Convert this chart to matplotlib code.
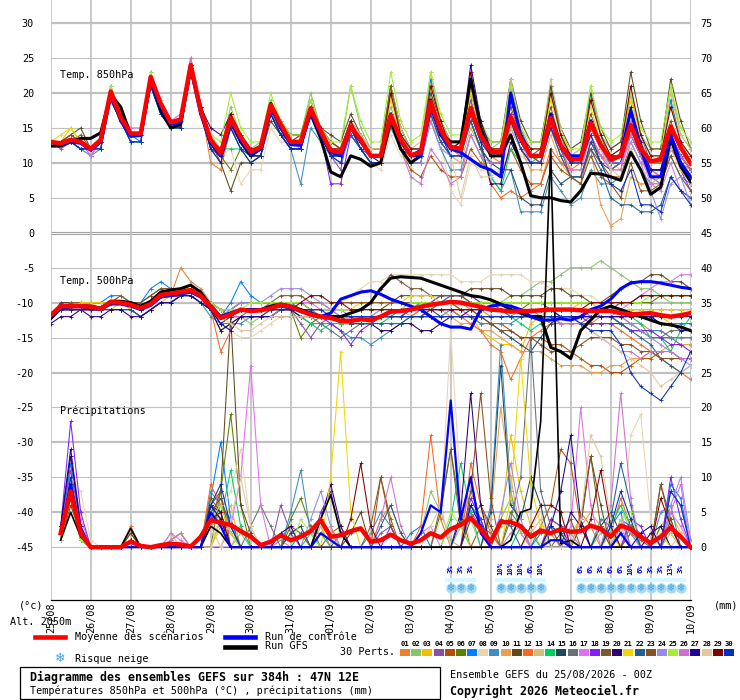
import numpy as np
import matplotlib
matplotlib.use('Agg')
import matplotlib.pyplot as plt
from matplotlib.lines import Line2D
from matplotlib.patches import Rectangle

plt.rcParams['font.family'] = ['DejaVu Sans Mono', 'DejaVu Sans']

# ---- data (6h steps, 25/08 00Z -> 10/09 00Z) ----
dates = ['25/08', '26/08', '27/08', '28/08', '29/08', '30/08', '31/08', '01/09', '02/09',
         '03/09', '04/09', '05/09', '06/09', '07/09', '08/09', '09/09', '10/09']

member_colors = ['#E8802E', '#88C46A', '#F0C000', '#8B4FA8', '#B0500A', '#5A8000', '#0080FF', '#E8D4B0',
                 '#3A8FC0', '#E8A050', '#5E4A1A', '#F86820', '#D0C080', '#00D060', '#204860', '#687078',
                 '#E070F0', '#8020F0', '#7A5A2A', '#300070', '#F0D800', '#206098', '#8A5020', '#9A88F0',
                 '#A0F030', '#D070D0', '#200098', '#E0C8A0', '#800000', '#0030C0']

mean850 = [13.0, 12.8, 13.3, 13.0, 12.0, 13.3, 20.2, 16.5, 14.2, 14.2, 22.3, 18.5, 15.8, 16.2, 24.0, 17.5,
           13.3, 11.4, 16.4, 13.7, 11.6, 12.3, 18.3, 15.5, 13.0, 13.0, 17.8, 14.5, 11.8, 11.5, 15.2, 13.3,
           11.0, 11.0, 16.8, 13.3, 11.1, 11.5, 18.7, 14.7, 12.3, 12.0, 17.8, 13.9, 11.6, 11.5, 16.6, 13.5,
           11.0, 11.0, 16.4, 12.5, 10.5, 10.5, 15.7, 12.6, 10.5, 11.0, 15.4, 12.0, 10.2, 10.5, 15.2, 12.2, 9.9]
ctrl850 = [13.0, 12.6, 13.0, 12.8, 11.8, 13.0, 19.8, 16.0, 13.8, 13.9, 21.8, 18.0, 15.5, 15.8, 23.5, 17.0,
           12.8, 11.0, 16.0, 13.2, 11.2, 12.0, 18.0, 15.0, 12.6, 12.5, 17.2, 14.0, 11.5, 11.0, 15.0, 13.0,
           11.0, 11.0, 17.0, 13.0, 11.0, 11.0, 18.0, 14.0, 12.0, 11.5, 10.5, 9.5, 9.0, 8.0, 20.0, 14.0,
           11.0, 11.0, 17.0, 12.5, 11.0, 11.0, 16.0, 12.5, 10.5, 11.0, 17.5, 12.0, 8.0, 8.0, 14.0, 10.0, 8.0]
gfs850 = [12.4, 12.4, 13.0, 13.5, 13.5, 14.3, 19.8, 18.0, 14.0, 14.0, 22.0, 17.5, 15.0, 15.5, 23.5, 18.0,
          13.0, 11.0, 16.0, 13.0, 11.0, 12.0, 18.5, 15.0, 13.0, 13.0, 17.0, 13.5, 8.7, 8.0, 11.0, 10.5,
          9.5, 10.0, 16.0, 12.0, 10.0, 11.0, 19.0, 14.0, 13.0, 13.0, 22.0, 15.0, 11.0, 11.0, 14.0, 10.0,
          5.3, 5.0, 5.0, 4.6, 4.4, 6.0, 8.5, 8.4, 8.0, 7.5, 11.5, 9.0, 5.5, 6.5, 13.5, 9.5, 7.3]

t850_members = [
    [13,13,13,13, 12,13,20,17, 14,14,22,18, 16,16,24,18, 10,9,15,13, 11,12,17,15, 13,13,17,14, 12,11,15,13, 11,11,16,13, 11,11,18,14, 12,12,19,14, 11,10,15,12, 10,10,15,12, 9,10,14,11, 10,10,16,12, 9,9,14,11, 9],
    [13,13,13,13, 12,13,20,17, 14,14,22,19, 16,16,24,18, 14,12,18,14, 12,13,19,16, 14,14,20,15, 13,12,21,15, 12,12,18,14, 12,12,20,16, 13,13,21,15, 12,13,20,15, 12,12,21,14, 11,12,20,14, 12,13,20,14, 12,12,21,14, 12],
    [13,13,15,13, 12,13,20,17, 14,14,22,18, 16,16,24,18, 13,11,16,14, 12,12,18,16, 13,13,18,15, 12,11,15,13, 11,11,20,14, 11,12,22,16, 12,12,21,15, 12,12,20,15, 11,11,20,14, 11,11,19,14, 10,11,19,13, 10,11,19,13, 11],
    [13,12,13,13, 11,13,21,17, 14,14,23,18, 16,16,25,18, 13,11,17,14, 11,12,18,15, 13,13,18,14, 11,9,16,13, 11,11,17,13, 11,11,19,15, 12,12,19,14, 11,11,16,13, 10,10,15,11, 8,7,13,11, 9,10,14,11, 8,7,12,10, 8],
    [13,13,14,13, 12,13,20,16, 14,14,22,18, 16,16,24,17, 13,12,16,13, 12,12,18,15, 13,14,18,15, 13,12,15,13, 11,11,16,12, 9,8,11,9, 8,8,12,10, 9,8,12,9, 7,7,11,9, 8,8,12,10, 8,8,13,10, 9,9,12,10, 9],
    [13,13,13,13, 12,13,20,16, 14,14,22,18, 16,16,24,18, 13,11,9,12, 10,11,17,14, 13,13,18,15, 12,11,15,12, 10,10,16,13, 11,11,18,14, 12,12,18,14, 11,11,17,13, 11,11,16,13, 10,11,16,12, 10,10,15,12, 10,10,14,11, 10],
    [13,13,13,12, 12,13,20,16, 14,13,21,18, 15,15,23,17, 13,11,16,13, 11,12,18,15, 13,13,17,14, 12,12,15,13, 11,11,21,15, 12,12,22,16, 13,13,22,16, 12,12,21,15, 11,11,21,14, 10,10,20,14, 10,11,20,14, 10,10,19,13, 10],
    [13,13,13,13, 12,13,20,16, 14,14,22,18, 16,16,23,17, 13,11,12,7, 9,9,15,13, 13,13,17,14, 12,11,14,12, 10,9,14,11, 10,11,17,13, 6,4,10,9, 9,9,14,11, 10,10,16,13, 11,11,16,12, 10,9,13,10, 8,9,14,11, 10],
    [13,13,13,12, 11,12,19,16, 13,13,21,17, 15,15,23,17, 12,11,15,12, 11,12,18,14, 12,7,15,13, 11,10,14,12, 10,10,15,12, 10,10,16,12, 9,9,14,11, 8,6,9,3, 3,3,8,6, 4,5,9,7, 7,8,12,9, 7,7,11,8, 7],
    [13,13,13,13, 12,13,20,16, 14,14,22,18, 16,16,24,18, 13,11,16,13, 11,12,17,15, 13,12,17,14, 12,11,15,13, 11,11,16,12, 10,11,16,13, 11,10,15,12, 10,10,15,12, 9,9,14,10, 8,7,12,4, 1,2,8,7, 7,8,13,10, 9],
    [13,13,14,15, 12,13,20,16, 14,14,22,18, 16,16,24,18, 13,10,6,10, 10,11,16,14, 14,14,18,15, 14,13,17,14, 12,12,21,15, 12,12,20,16, 13,13,20,15, 13,13,22,16, 13,13,21,15, 12,13,20,15, 12,13,23,16, 12,12,22,16, 12],
    [13,13,13,13, 12,13,20,17, 14,14,22,18, 16,16,24,18, 12,10,15,13, 11,12,18,15, 13,13,18,14, 12,11,15,13, 11,11,17,13, 11,11,18,14, 12,11,16,12, 7,5,6,5, 6,7,12,10, 9,9,14,11, 10,10,15,12, 10,10,14,11, 9],
    [13,13,13,13, 12,13,20,17, 14,14,22,18, 16,16,24,18, 13,12,17,14, 12,12,18,15, 13,13,18,15, 12,12,16,14, 12,12,21,15, 12,13,23,16, 13,13,22,16, 12,12,22,15, 12,12,22,15, 11,12,21,14, 11,12,20,14, 11,11,20,14, 12],
    [13,13,13,13, 12,13,20,16, 14,14,22,18, 16,16,24,18, 13,12,12,12, 11,12,17,15, 13,13,18,14, 12,12,15,13, 11,11,17,13, 11,11,18,14, 12,12,16,12, 8,6,12,10, 10,11,16,12, 10,10,15,12, 10,11,15,12, 9,9,14,11, 9],
    [13,13,13,12, 12,12,19,16, 14,14,21,17, 15,16,23,17, 12,11,16,13, 11,11,17,14, 12,12,17,14, 11,11,15,12, 10,10,16,12, 10,11,17,13, 11,11,16,12, 10,9,9,5, 4,4,9,7, 8,8,13,10, 9,10,14,11, 9,9,13,10, 8],
    [13,13,13,13, 12,13,20,16, 14,14,22,18, 16,16,24,18, 13,12,17,14, 12,12,18,15, 13,13,18,14, 12,12,15,13, 11,11,17,13, 11,11,18,14, 12,12,18,14, 12,12,17,14, 11,11,16,13, 10,10,15,12, 9,10,14,11, 8,8,12,10, 7],
    [13,13,13,13, 11,13,21,17, 15,15,22,18, 16,17,25,18, 13,11,16,13, 11,12,18,15, 13,13,18,15, 12,12,16,13, 11,11,17,13, 11,12,18,14, 12,12,17,13, 11,11,16,13, 11,11,16,12, 9,9,14,11, 9,9,15,11, 7,6,10,6, 5],
    [13,13,13,13, 12,13,20,16, 14,14,22,18, 16,16,24,17, 13,11,16,13, 11,12,18,15, 13,13,17,14, 7,7,14,12, 11,11,17,13, 11,11,19,14, 12,12,18,14, 11,11,17,13, 11,10,16,12, 10,10,15,12, 10,10,15,12, 9,8,13,9, 6],
    [13,13,13,14, 12,13,20,17, 14,14,22,18, 16,16,24,18, 13,12,17,14, 12,12,18,16, 14,14,19,15, 13,12,16,14, 12,12,21,14, 12,12,19,15, 13,13,18,14, 12,12,18,14, 11,12,18,13, 11,11,17,13, 10,11,17,13, 10,11,16,12, 10],
    [13,13,13,13, 12,13,20,17, 14,14,22,18, 16,16,24,18, 15,14,17,14, 12,12,18,15, 13,13,18,15, 12,11,15,13, 11,10,16,12, 11,11,18,14, 12,12,17,13, 7,7,13,10, 10,10,16,12, 10,10,15,12, 10,10,15,11, 9,9,14,11, 9],
    [13,14,15,13, 12,13,20,17, 14,14,22,18, 16,16,24,18, 13,12,17,14, 12,12,18,15, 13,13,18,14, 12,11,15,13, 11,11,19,14, 11,12,21,16, 12,12,20,15, 12,12,20,14, 11,11,19,14, 11,11,18,13, 11,11,19,13, 10,11,18,13, 10],
    [13,13,13,12, 12,12,19,16, 13,13,21,17, 15,15,23,17, 12,11,15,12, 11,11,17,14, 12,12,17,14, 11,11,14,12, 10,10,16,12, 10,10,17,13, 11,11,16,12, 10,10,15,12, 10,10,15,11, 8,8,12,9, 5,4,4,3, 3,4,8,6, 5],
    [13,13,14,13, 12,13,20,17, 14,14,22,18, 16,16,24,18, 13,12,17,14, 12,12,18,15, 13,14,18,15, 13,12,16,13, 11,11,17,13, 11,11,18,14, 12,12,18,14, 11,11,16,13, 11,10,15,12, 8,7,11,8, 7,5,10,6, 6,7,11,8, 6],
    [13,13,13,13, 12,13,20,16, 14,14,22,18, 16,16,24,18, 13,11,16,13, 11,12,18,15, 13,13,17,14, 12,11,15,13, 11,11,16,12, 10,10,16,12, 11,11,17,13, 11,11,16,12, 11,11,16,12, 10,10,15,12, 10,10,13,10, 6,2,7,8, 4],
    [13,13,13,13, 12,13,21,17, 14,14,23,18, 16,16,25,18, 14,13,20,15, 13,13,20,16, 14,14,19,15, 13,13,21,16, 13,13,23,16, 13,14,23,17, 14,14,22,16, 13,13,21,15, 13,13,20,14, 12,12,21,15, 13,14,20,15, 13,13,21,15, 13],
    [13,13,13,13, 12,13,20,17, 14,14,22,18, 16,16,25,18, 13,11,16,13, 11,12,18,15, 13,13,18,14, 12,12,15,13, 11,11,16,12, 8,7,12,10, 7,8,14,11, 10,10,16,12, 10,10,15,12, 10,10,15,12, 9,9,14,11, 9,8,14,11, 9],
    [13,13,13,13, 12,13,20,17, 14,14,22,18, 16,16,24,18, 13,11,16,13, 11,11,17,14, 12,12,17,14, 11,11,15,13, 11,11,17,13, 11,12,19,15, 12,13,24,16, 12,11,16,13, 11,11,17,13, 10,11,16,12, 11,11,18,13, 9,9,14,10, 7],
    [13,13,13,13, 12,13,20,16, 14,14,22,18, 16,16,24,18, 13,12,16,14, 12,12,18,15, 13,13,18,15, 12,12,16,14, 12,12,17,14, 12,12,19,15, 11,5,11,8, 8,9,15,12, 11,11,16,13, 11,10,15,12, 9,8,12,9, 8,8,12,9, 7],
    [13,13,13,13, 12,13,20,17, 14,14,22,18, 16,15,24,18, 13,12,17,14, 12,12,18,15, 13,13,18,15, 12,12,16,13, 11,11,20,14, 12,12,21,16, 12,13,23,15, 12,12,19,14, 12,12,20,14, 11,11,19,14, 11,12,21,14, 11,11,18,13, 11],
    [13,13,13,12, 12,12,19,16, 13,13,21,17, 15,15,23,17, 12,10,15,12, 10,11,17,14, 12,12,17,14, 11,10,15,12, 10,10,16,12, 10,11,18,14, 11,11,17,13, 11,11,16,12, 10,10,15,12, 10,10,14,10, 7,6,9,4, 4,3,8,6, 4],
]

mean500 = [-11.8, -10.5, -10.5, -10.5, -10.6, -10.9, -9.9, -10.0, -10.3, -10.8, -10.2, -8.9, -8.7, -8.5, -8.2, -9.0,
           -10.6, -12.2, -11.7, -11.0, -11.2, -11.1, -10.8, -10.3, -10.6, -11.2, -11.7, -12.0, -12.2, -12.6, -12.6, -12.4,
           -12.5, -12.0, -11.3, -11.2, -11.0, -10.6, -10.3, -10.1, -9.9, -10.0, -10.3, -10.6, -11.0, -11.1, -11.3, -11.2,
           -11.2, -11.1, -11.0, -11.0, -11.0, -11.1, -11.2, -11.2, -11.2, -11.5, -11.7, -11.6, -11.5, -11.8, -12.0, -11.8, -11.5]
ctrl500 = [-12.0, -10.8, -10.6, -10.6, -10.8, -11.0, -10.2, -10.2, -10.5, -11.0, -10.4, -9.2, -9.0, -8.8, -8.5, -9.2,
           -10.8, -12.0, -11.5, -11.0, -11.0, -11.0, -10.8, -10.5, -10.8, -11.2, -11.5, -12.0, -11.5, -9.5, -9.0, -8.5,
           -8.3, -8.8, -9.5, -10.0, -10.5, -11.0, -12.0, -13.0, -13.5, -13.5, -13.8, -11.0, -10.5, -10.3, -10.5, -11.0,
           -12.0, -12.5, -12.5, -12.3, -12.5, -12.0, -11.0, -10.5, -9.5, -8.0, -7.2, -7.0, -7.0, -7.2, -7.5, -7.8, -8.0]
gfs500 = [-12.3, -10.8, -10.6, -10.4, -10.5, -10.8, -9.8, -9.8, -10.0, -10.5, -9.8, -8.5, -8.2, -8.0, -7.5, -8.5,
          -10.5, -12.0, -11.5, -11.0, -11.0, -11.0, -10.5, -10.2, -10.5, -11.0, -11.5, -12.0, -12.0, -12.0, -11.5, -11.0,
          -10.0, -8.0, -6.5, -6.3, -6.4, -6.5, -7.0, -7.5, -8.0, -8.5, -9.0, -9.2, -9.6, -10.2, -11.0, -11.5,
          -12.0, -12.0, -16.4, -17.0, -18.0, -14.0, -12.5, -11.0, -10.5, -11.0, -11.5, -12.0, -12.5, -13.0, -13.2, -13.5, -14.0]

t500_members = [
    [-12,-11,-10,-10, -10,-11,-10,-10, -10,-11,-10,-9, -9,-5,-7,-8, -10,-12,-11,-11, -11,-11,-11,-10, -10,-11,-12,-12, -12,-12,-13,-12, -12,-12,-11,-11, -11,-10,-11,-10, -10,-10,-11,-11, -12,-12,-12,-11, -11,-12,-13,-12, -12,-13,-13,-12, -12,-12,-13,-13, -14,-14,-15,-15, -15],
    [-12,-11,-11,-10, -11,-11,-10,-10, -10,-11,-10,-9, -9,-9,-8,-9, -10,-11,-12,-12, -13,-12,-12,-11, -11,-11,-12,-12, -12,-12,-12,-12, -12,-11,-11,-11, -10,-10,-10,-10, -9,-9,-10,-10, -10,-10,-9,-9, -8,-7,-7,-6, -5,-5,-5,-4, -5,-6,-7,-8, -8,-9,-10,-10, -10],
    [-12,-11,-11,-11, -11,-11,-11,-10, -11,-12,-11,-10, -9,-9,-8,-9, -11,-12,-12,-11, -11,-11,-11,-11, -11,-11,-12,-12, -12,-12,-12,-12, -13,-12,-11,-11, -12,-12,-11,-11, -11,-11,-12,-14, -15,-16,-16,-17, -13,-12,-11,-11, -11,-10,-10,-11, -11,-11,-12,-12, -12,-12,-13,-13, -13],
    [-12,-11,-11,-11, -11,-11,-10,-10, -10,-11,-10,-9, -9,-8,-8,-9, -10,-12,-11,-11, -11,-11,-10,-10, -11,-13,-15,-13, -12,-13,-13,-12, -12,-12,-11,-11, -11,-11,-11,-10, -10,-11,-11,-12, -12,-12,-12,-12, -12,-12,-12,-13, -13,-13,-12,-12, -12,-13,-14,-14, -15,-15,-15,-16, -16],
    [-12,-11,-11,-11, -11,-11,-10,-10, -10,-11,-10,-9, -9,-9,-8,-9, -11,-13,-12,-11, -11,-11,-11,-11, -11,-11,-11,-12, -12,-13,-13,-13, -13,-12,-12,-12, -12,-12,-11,-11, -11,-12,-12,-13, -13,-13,-14,-15, -15,-15,-16,-16, -17,-18,-19,-19, -20,-20,-19,-18, -18,-17,-17,-18, -18],
    [-12,-11,-11,-11, -11,-11,-10,-10, -10,-11,-10,-9, -9,-9,-8,-9, -11,-14,-13,-12, -11,-11,-11,-10, -11,-15,-13,-12, -12,-13,-13,-13, -13,-12,-12,-11, -11,-10,-10,-10, -10,-10,-10,-11, -11,-11,-11,-11, -10,-10,-10,-10, -10,-10,-10,-10, -10,-10,-10,-10, -10,-9,-9,-9, -9],
    [-12,-10,-10,-10, -10,-10,-9,-9, -10,-10,-8,-7, -8,-8,-8,-9, -10,-12,-10,-7, -9,-10,-10,-10, -10,-11,-11,-11, -11,-12,-12,-12, -12,-12,-12,-12, -11,-11,-10,-10, -9,-9,-10,-10, -10,-11,-11,-11, -11,-11,-11,-11, -11,-11,-11,-12, -12,-12,-12,-12, -12,-13,-13,-13, -13],
    [-12,-11,-10,-10, -10,-11,-10,-9, -10,-11,-10,-9, -9,-9,-8,-9, -11,-13,-14,-15, -15,-14,-13,-12, -12,-12,-12,-12, -11,-10,-9,-8, -7,-7,-6,-6, -6,-6,-6,-6, -6,-7,-7,-7, -6,-6,-6,-6, -7,-7,-8,-8, -8,-9,-9,-10, -10,-10,-11,-11, -12,-12,-12,-12, -12],
    [-12,-11,-11,-11, -11,-11,-11,-11, -11,-12,-11,-10, -10,-9,-9,-10, -12,-13,-13,-13, -12,-12,-12,-11, -11,-12,-13,-13, -13,-14,-15,-15, -16,-15,-14,-13, -12,-12,-12,-12, -11,-12,-12,-13, -13,-13,-13,-12, -12,-12,-12,-12, -12,-12,-12,-12, -12,-13,-13,-14, -14,-14,-15,-15, -15],
    [-12,-11,-11,-11, -11,-11,-10,-10, -10,-11,-10,-9, -9,-9,-8,-9, -11,-12,-12,-11, -11,-11,-11,-11, -11,-11,-11,-12, -12,-12,-12,-12, -12,-12,-12,-12, -12,-11,-11,-11, -12,-13,-13,-14, -14,-15,-16,-17, -17,-17,-18,-19, -19,-19,-20,-20, -19,-19,-18,-18, -17,-17,-16,-16, -16],
    [-12,-10,-10,-10, -10,-10,-10,-10, -10,-10,-9,-8, -8,-8,-8,-9, -10,-11,-11,-10, -10,-10,-10,-10, -10,-10,-11,-11, -11,-11,-11,-11, -11,-11,-10,-9, -9,-9,-9,-9, -9,-9,-8,-8, -8,-8,-9,-9, -9,-9,-8,-8, -9,-9,-10,-10, -9,-8,-7,-7, -6,-6,-7,-7, -8],
    [-12,-11,-11,-11, -11,-11,-10,-10, -10,-11,-10,-9, -9,-9,-8,-9, -11,-17,-14,-12, -12,-12,-11,-11, -11,-11,-12,-12, -12,-12,-12,-12, -12,-12,-12,-12, -12,-11,-11,-11, -11,-12,-13,-14, -16,-17,-21,-18, -15,-14,-13,-13, -13,-13,-13,-13, -13,-14,-15,-16, -17,-18,-19,-20, -21],
    [-12,-11,-10,-10, -10,-11,-10,-10, -10,-11,-10,-9, -9,-9,-8,-9, -11,-12,-11,-11, -11,-11,-11,-11, -11,-11,-11,-12, -12,-12,-12,-13, -13,-12,-11,-11, -11,-10,-10,-10, -10,-10,-10,-10, -11,-11,-11,-11, -11,-11,-11,-11, -11,-11,-11,-11, -11,-11,-11,-11, -11,-11,-11,-11, -11],
    [-12,-11,-11,-11, -11,-11,-10,-10, -10,-11,-10,-9, -9,-9,-8,-9, -11,-12,-12,-12, -12,-12,-12,-11, -11,-12,-13,-14, -13,-13,-13,-13, -13,-13,-12,-12, -11,-10,-10,-9, -9,-9,-9,-10, -10,-11,-12,-13, -14,-13,-12,-12, -12,-12,-12,-12, -12,-12,-12,-13, -15,-15,-17,-14, -12],
    [-12,-11,-11,-11, -11,-11,-10,-10, -10,-11,-10,-9, -9,-9,-8,-9, -11,-12,-12,-12, -12,-12,-11,-11, -11,-11,-11,-11, -11,-11,-11,-11, -11,-11,-11,-11, -11,-11,-11,-12, -12,-12,-12,-12, -13,-14,-15,-16, -17,-15,-13,-12, -12,-12,-11,-11, -11,-10,-10,-9, -9,-9,-9,-9, -9],
    [-12,-11,-11,-11, -11,-11,-10,-10, -10,-11,-10,-9, -9,-9,-8,-9, -11,-12,-12,-11, -11,-11,-11,-11, -11,-11,-12,-13, -14,-15,-14,-13, -13,-12,-12,-12, -11,-11,-11,-11, -11,-11,-11,-11, -11,-11,-12,-12, -12,-12,-12,-12, -12,-13,-13,-13, -13,-13,-14,-14, -15,-15,-14,-14, -14],
    [-12,-11,-11,-11, -11,-11,-10,-10, -10,-11,-10,-9, -9,-9,-8,-9, -10,-11,-11,-11, -11,-11,-11,-10, -10,-10,-10,-11, -11,-12,-12,-12, -12,-11,-11,-11, -11,-11,-11,-11, -11,-11,-12,-12, -12,-12,-12,-12, -12,-12,-12,-12, -12,-12,-12,-12, -12,-11,-10,-9, -8,-7,-7,-6, -6],
    [-12,-11,-11,-11, -11,-11,-10,-10, -10,-11,-10,-9, -9,-9,-8,-9, -11,-12,-12,-11, -11,-11,-11,-10, -10,-10,-11,-12, -13,-14,-16,-14, -13,-12,-12,-12, -11,-11,-10,-9, -9,-9,-9,-10, -10,-10,-11,-11, -11,-11,-11,-12, -12,-12,-13,-13, -13,-13,-14,-14, -14,-15,-16,-16, -17],
    [-12,-11,-10,-10, -10,-10,-10,-9, -10,-10,-9,-8, -8,-8,-8,-9, -10,-11,-11,-10, -10,-10,-10,-9, -9,-9,-10,-10, -11,-11,-11,-11, -10,-8,-6,-7, -8,-8,-9,-9, -9,-9,-10,-10, -10,-10,-10,-10, -10,-10,-11,-11, -11,-11,-11,-11, -11,-11,-11,-11, -11,-11,-11,-11, -11],
    [-12,-11,-11,-11, -11,-11,-11,-11, -11,-12,-11,-10, -10,-9,-9,-10, -11,-14,-13,-12, -12,-12,-12,-11, -11,-12,-12,-12, -12,-12,-13,-13, -13,-14,-14,-13, -13,-14,-14,-13, -12,-12,-11,-11, -11,-11,-11,-11, -11,-11,-11,-12, -12,-12,-12,-12, -12,-12,-12,-12, -12,-12,-12,-12, -12],
    [-12,-11,-11,-10, -10,-10,-10,-10, -10,-11,-10,-9, -9,-8,-8,-9, -11,-12,-12,-11, -11,-11,-11,-11, -11,-11,-11,-11, -11,-11,-11,-10, -10,-10,-10,-10, -9,-9,-9,-10, -10,-11,-11,-11, -11,-11,-11,-11, -11,-11,-11,-11, -11,-11,-11,-11, -11,-11,-11,-11, -11,-11,-11,-11, -11],
    [-12,-11,-11,-11, -11,-11,-11,-11, -11,-12,-11,-10, -10,-9,-9,-10, -11,-13,-12,-12, -12,-12,-12,-11, -11,-11,-12,-12, -12,-12,-13,-13, -13,-13,-13,-13, -12,-12,-11,-11, -11,-11,-11,-11, -11,-11,-11,-11, -11,-11,-11,-11, -11,-11,-12,-12, -12,-13,-14,-15, -16,-18,-19,-20, -19],
    [-12,-11,-11,-11, -11,-11,-10,-10, -10,-11,-10,-9, -9,-9,-8,-9, -11,-12,-12,-11, -11,-11,-11,-11, -11,-11,-11,-11, -11,-10,-10,-10, -10,-10,-10,-10, -10,-10,-10,-10, -10,-11,-11,-12, -13,-14,-14,-15, -15,-16,-17,-17, -17,-16,-15,-15, -15,-16,-16,-17, -17,-18,-18,-18, -18],
    [-12,-11,-11,-11, -11,-11,-10,-10, -10,-11,-10,-9, -9,-9,-8,-9, -11,-12,-11,-10, -10,-10,-9,-8, -8,-8,-9,-10, -11,-11,-12,-12, -12,-12,-11,-11, -11,-11,-11,-11, -11,-11,-11,-11, -11,-11,-11,-11, -11,-11,-11,-11, -11,-11,-12,-12, -12,-12,-13,-14, -15,-16,-17,-18, -19],
    [-12,-11,-11,-11, -11,-11,-10,-10, -10,-11,-10,-9, -9,-9,-8,-9, -10,-11,-11,-11, -10,-10,-10,-10, -10,-10,-11,-11, -11,-11,-11,-11, -11,-11,-11,-11, -10,-10,-10,-10, -10,-10,-10,-10, -10,-10,-10,-10, -10,-10,-10,-10, -10,-10,-10,-10, -10,-10,-10,-10, -9,-9,-9,-9, -9],
    [-12,-11,-11,-11, -11,-11,-10,-10, -10,-11,-10,-9, -9,-9,-8,-9, -11,-12,-12,-12, -12,-12,-12,-11, -11,-11,-11,-12, -12,-12,-12,-12, -12,-12,-12,-12, -12,-12,-12,-12, -12,-12,-12,-12, -12,-12,-12,-12, -12,-12,-12,-13, -13,-13,-14,-15, -16,-17,-17,-18, -17,-17,-17,-18, -18],
    [-13,-12,-12,-11, -12,-12,-11,-11, -12,-12,-11,-10, -10,-9,-9,-10, -11,-13,-14,-12, -12,-12,-12,-12, -12,-12,-12,-12, -12,-12,-12,-12, -12,-12,-12,-12, -12,-12,-12,-12, -12,-12,-12,-12, -12,-12,-12,-12, -12,-12,-12,-12, -12,-12,-12,-12, -12,-12,-12,-12, -12,-13,-13,-14, -14],
    [-12,-11,-11,-11, -11,-11,-10,-10, -10,-11,-10,-9, -9,-9,-8,-9, -11,-12,-13,-14, -14,-13,-12,-12, -12,-12,-12,-12, -12,-12,-12,-12, -12,-12,-12,-12, -12,-12,-12,-12, -12,-12,-12,-12, -12,-12,-12,-12, -12,-12,-12,-12, -12,-13,-14,-15, -16,-17,-18,-19, -20,-22,-21,-20, -19],
    [-12,-11,-11,-11, -11,-11,-10,-10, -10,-11,-10,-9, -9,-9,-8,-9, -11,-12,-12,-11, -11,-11,-11,-11, -11,-10,-9,-9, -10,-10,-11,-11, -11,-11,-11,-11, -11,-11,-11,-11, -11,-11,-11,-11, -11,-11,-11,-11, -11,-11,-11,-11, -11,-11,-10,-10, -10,-10,-10,-9, -9,-9,-9,-9, -9],
    [-12,-11,-11,-11, -11,-11,-10,-10, -10,-11,-10,-9, -9,-9,-8,-9, -11,-12,-12,-11, -11,-11,-11,-11, -11,-11,-11,-11, -12,-12,-12,-12, -12,-12,-12,-12, -12,-12,-12,-12, -12,-12,-12,-12, -12,-12,-12,-12, -12,-12,-12,-12, -12,-13,-14,-14, -14,-16,-20,-22, -23,-24,-22,-20, -17],
]

# precipitation (mm per 6h, from 25/08 06Z), members sparse: {step: mm}
mean_prec = [2.0, 8.0, 2.0, 0.0, 0.0, 0.0, 0.0, 0.8, 0.2, 0.0, 0.3, 0.5, 0.4, 0.1, 1.5, 3.9,
             3.5, 3.2, 2.3, 1.5, 0.3, 0.8, 1.7, 1.0, 1.5, 2.3, 3.9, 1.5, 1.7, 2.3, 2.7, 0.8,
             1.0, 1.8, 1.0, 0.5, 1.0, 2.0, 1.4, 2.6, 3.2, 4.2, 2.6, 0.8, 3.6, 3.6, 3.0, 1.5,
             2.4, 2.0, 2.6, 2.2, 2.3, 3.1, 2.6, 1.5, 3.1, 2.6, 1.5, 0.6, 1.5, 2.8, 1.5, 0.0]
ctrl_prec = {1: 2, 2: 9, 3: 2, 16: 5, 17: 3, 27: 2, 28: 1, 37: 2, 38: 6, 39: 5, 40: 21, 41: 4, 42: 10, 43: 2,
             50: 1, 51: 1, 57: 2}
gfs_prec = {1: 1, 2: 5, 3: 1.5, 8: 2.7, 16: 3, 17: 2, 27: 4, 28: 7.5, 29: 2, 46: 1, 47: 5, 48: 5.5, 49: 18,
            50: 57, 51: 0.5, 52: 1}
prec_members = [
    {1: 1, 2: 9, 3: 2, 8: 2, 16: 5, 17: 4, 18: 2, 23: 1, 27: 3, 33: 4, 34: 6, 35: 2, 41: 3, 42: 8, 43: 4, 50: 2, 53: 5, 54: 3, 58: 2, 62: 3},
    {1: 1, 2: 8, 3: 1, 16: 6, 17: 3, 19: 2, 24: 2, 25: 3, 37: 2, 38: 8, 39: 5, 40: 1, 45: 4, 46: 7, 47: 3, 55: 2, 56: 4, 57: 6, 58: 2, 62: 2},
    {1: 2, 2: 7, 3: 1, 12: 1, 13: 2, 17: 3, 18: 6, 27: 2, 28: 3, 45: 3, 46: 16, 47: 8, 48: 3, 52: 2, 53: 4, 61: 3, 62: 5, 63: 2},
    {1: 2, 2: 11, 3: 3, 8: 1, 17: 4, 18: 3, 23: 6, 24: 2, 33: 2, 34: 3, 42: 5, 43: 3, 50: 3, 51: 2, 57: 4, 58: 3, 62: 8, 63: 6},
    {1: 1, 2: 8, 3: 2, 16: 3, 17: 6, 18: 4, 28: 2, 29: 3, 33: 10, 34: 4, 43: 3, 44: 2, 49: 3, 50: 6, 51: 14, 52: 12, 53: 3, 58: 2, 59: 1},
    {1: 1, 2: 9, 3: 2, 17: 8, 18: 19, 19: 6, 24: 4, 25: 7, 26: 3, 39: 6, 40: 14, 41: 5, 46: 5, 47: 3, 55: 3, 56: 2, 61: 3},
    {1: 2, 2: 12, 3: 3, 16: 7, 17: 15, 18: 4, 25: 2, 26: 2, 36: 2, 37: 3, 42: 6, 43: 4, 49: 2, 50: 3, 56: 3, 57: 5, 62: 9, 63: 7},
    {1: 2, 2: 10, 3: 8, 4: 1, 17: 5, 18: 8, 19: 14, 20: 3, 29: 3, 39: 4, 40: 31, 41: 8, 48: 3, 49: 5, 58: 16, 59: 19, 60: 4},
    {1: 2, 2: 10, 3: 1, 16: 8, 17: 6, 18: 3, 24: 5, 25: 11, 26: 2, 32: 2, 33: 5, 34: 3, 44: 6, 45: 29, 46: 8, 47: 2, 55: 4, 56: 3, 61: 5, 62: 6},
    {1: 1, 2: 7, 3: 1, 16: 4, 17: 7, 18: 2, 27: 4, 28: 2, 44: 4, 45: 20, 46: 10, 47: 2, 53: 3, 54: 5, 55: 3, 60: 2},
    {1: 1, 2: 6, 3: 2, 8: 2, 16: 6, 17: 8, 18: 33, 19: 6, 20: 2, 30: 2, 31: 5, 42: 4, 43: 6, 44: 3, 53: 3, 54: 13, 55: 6, 61: 9, 62: 4},
    {1: 2, 2: 8, 3: 1, 8: 3, 16: 9, 17: 6, 18: 2, 37: 3, 38: 16, 39: 4, 42: 12, 43: 6, 44: 2, 50: 4, 51: 3, 56: 2, 57: 7, 58: 3},
    {1: 1, 2: 7, 3: 3, 12: 2, 16: 4, 17: 5, 19: 3, 27: 3, 28: 2, 41: 3, 42: 4, 48: 2, 49: 4, 57: 3, 62: 2},
    {1: 1, 2: 8, 3: 1, 16: 6, 17: 4, 18: 11, 19: 3, 26: 2, 27: 2, 40: 4, 41: 12, 42: 5, 47: 3, 48: 2, 56: 3, 57: 6, 58: 3},
    {1: 1, 2: 9, 3: 2, 16: 5, 17: 3, 24: 2, 25: 3, 44: 5, 45: 26, 46: 6, 47: 4, 48: 10, 49: 6, 55: 3, 56: 5, 57: 2},
    {1: 2, 2: 8, 3: 2, 16: 6, 17: 4, 20: 3, 21: 6, 22: 3, 29: 2, 46: 4, 47: 10, 48: 30, 49: 8, 50: 3, 58: 3, 59: 2},
    {1: 3, 2: 13, 3: 4, 8: 1, 12: 2, 13: 1, 18: 3, 19: 10, 20: 26, 21: 6, 37: 2, 38: 3, 52: 3, 53: 20, 54: 6, 57: 4, 62: 5, 63: 3},
    {1: 3, 2: 18, 3: 5, 12: 1, 13: 2, 27: 5, 28: 8, 29: 2, 34: 3, 42: 7, 43: 4, 50: 4, 51: 3, 58: 4, 59: 3, 62: 10, 63: 4},
    {1: 1, 2: 9, 3: 2, 16: 7, 17: 5, 32: 3, 33: 10, 34: 3, 39: 5, 40: 14, 41: 3, 51: 2, 52: 4, 61: 9, 62: 3},
    {1: 3, 2: 13, 3: 3, 8: 1, 16: 6, 17: 5, 27: 4, 28: 9, 29: 3, 41: 5, 42: 22, 43: 6, 52: 5, 53: 3, 60: 2, 61: 3},
    {1: 2, 2: 8, 3: 2, 12: 1, 13: 2, 17: 4, 18: 3, 28: 10, 29: 28, 30: 5, 46: 7, 47: 27, 48: 9, 49: 3, 56: 2, 61: 2},
    {1: 2, 2: 9, 3: 2, 16: 5, 17: 7, 18: 3, 33: 3, 34: 6, 35: 2, 45: 4, 46: 3, 56: 4, 57: 12, 58: 6, 62: 3},
    {1: 1, 2: 7, 3: 2, 16: 4, 17: 8, 24: 3, 25: 2, 42: 8, 43: 22, 44: 7, 53: 4, 54: 13, 55: 3, 62: 4},
    {1: 2, 2: 10, 3: 2, 16: 5, 17: 3, 26: 4, 27: 8, 28: 3, 45: 5, 46: 12, 47: 4, 57: 3, 58: 2, 62: 6, 63: 10, 64: 1},
    {1: 1, 2: 8, 3: 1, 16: 4, 17: 6, 18: 2, 25: 4, 26: 2, 40: 5, 41: 3, 50: 3, 51: 2, 57: 4, 58: 5},
    {1: 2, 2: 9, 3: 3, 12: 1, 13: 2, 16: 3, 17: 4, 33: 4, 34: 10, 35: 3, 46: 2, 47: 3, 52: 2, 56: 6, 57: 22, 58: 7, 62: 5, 63: 9},
    {1: 3, 2: 14, 3: 3, 16: 6, 17: 4, 23: 2, 24: 3, 42: 6, 43: 3, 50: 3, 51: 8, 52: 16, 53: 4, 59: 2, 60: 3},
    {1: 1, 2: 7, 3: 2, 16: 3, 18: 4, 19: 10, 20: 3, 38: 3, 39: 6, 53: 4, 54: 16, 55: 13, 56: 4, 63: 2},
    {1: 2, 2: 9, 3: 2, 8: 1, 16: 4, 17: 5, 30: 4, 31: 12, 32: 3, 48: 3, 49: 6, 50: 6, 51: 5, 54: 4, 55: 11, 56: 3, 61: 7, 62: 3},
    {1: 2, 2: 10, 3: 2, 16: 6, 17: 9, 18: 3, 41: 4, 42: 10, 43: 3, 50: 3, 51: 2, 56: 3, 57: 8, 58: 4, 62: 8, 63: 6},
]

snow_steps = [40, 41, 42, 45, 46, 47, 48, 49, 53, 54, 55, 56, 57, 58, 59, 60, 61, 62, 63]
snow_pct = [3, 3, 3, 10, 10, 10, 6, 10, 6, 6, 3, 6, 6, 10, 6, 3, 3, 13, 3]

for k in range(30):
    assert len(t850_members[k]) == 65, ('850', k + 1)
    assert len(t500_members[k]) == 65, ('500', k + 1)

# ---- figure ----
W, H = 740, 700
PRECIP_ZERO = -45  # precipitation 0 mm sits on -45 of the temperature scale


def fx(px):
    return px / W


def fy(py):
    return 1 - py / H


fig = plt.figure(figsize=(7.4, 7.0), dpi=100)
ax = fig.add_axes([fx(50.7), fy(600), 640 / W, 600 / H])
ymin, ymax = -52.55, 33.3
ax.set_xlim(0, 16)
ax.set_ylim(ymin, ymax)

gc = '#C0C0C0'
for lev in range(-45, 31, 5):
    if lev == 0:
        ax.axhline(0.12, color='#A0A0A0', lw=0.8, zorder=0)
        ax.axhline(-0.2, color='#A0A0A0', lw=0.8, zorder=0)
    elif lev % 10 == 0:
        ax.axhline(lev, color=gc, lw=1.6, zorder=0)
    else:
        ax.axhline(lev, color=gc, lw=0.8, zorder=0)
for d in range(17):
    ax.axvline(d, color=gc, lw=1.2, zorder=0)

for s in ['left', 'right', 'top']:
    ax.spines[s].set_visible(False)
ax.spines['bottom'].set_color('black')
ax.spines['bottom'].set_linewidth(0.9)

ax.set_yticks(range(-45, 31, 5))
ax.set_yticklabels([str(v) for v in range(-45, 31, 5)])
ax.tick_params(axis='y', length=0, pad=12, labelsize=7.3)
ax.set_xticks(range(17))
ax.set_xticklabels(dates, rotation=90, fontsize=7.3)
ax.tick_params(axis='x', length=0, pad=2)

ax2 = ax.twinx()
ax2.set_ylim(ymin - PRECIP_ZERO, ymax - PRECIP_ZERO)
ax2.set_yticks(range(0, 76, 5))
ax2.tick_params(axis='y', length=0, pad=7, labelsize=7.3)
for s in ax2.spines.values():
    s.set_visible(False)

x6 = np.arange(65) / 4
xp = np.arange(1, 65) / 4


def prec_line(d):
    return np.array([d.get(i, 0) for i in range(1, 65)]) + PRECIP_ZERO


mk = dict(lw=0.75, marker='+', ms=2.6, mew=0.6, zorder=2)
for k in range(30):
    c = member_colors[k]
    ax.plot(x6, t850_members[k], color=c, **mk)
    ax.plot(x6, t500_members[k], color=c, **mk)
    ax.plot(xp, prec_line(prec_members[k]), color=c, **mk)

ax.plot(x6, gfs850, color='black', lw=2.2, zorder=3)
ax.plot(x6, gfs500, color='black', lw=2.2, zorder=3)
ax.plot(xp, prec_line(gfs_prec), color='black', lw=1.2, zorder=3)
ax.plot(x6, ctrl850, color='#0000FF', lw=2.2, zorder=4)
ax.plot(x6, ctrl500, color='#0000FF', lw=2.2, zorder=4)
ax.plot(xp, prec_line(ctrl_prec), color='#0000FF', lw=1.6, zorder=4)
ax.plot(x6, mean850, color='#FF0000', lw=3.2, zorder=5)
ax.plot(x6, mean500, color='#FF0000', lw=3.2, zorder=5)
ax.plot(xp, np.array(mean_prec) + PRECIP_ZERO, color='#FF0000', lw=3.2, zorder=5)

ax.text(0.23, 22.6, 'Temp. 850hPa', fontsize=7.3, ha='left', va='center', zorder=6)
ax.text(0.23, -6.9, 'Temp. 500hPa', fontsize=7.3, ha='left', va='center', zorder=6)
ax.text(0.23, -25.4, 'Précipitations', fontsize=7.3, ha='left', va='center', zorder=6)

# snow risk icons
for st, pc in zip(snow_steps, snow_pct):
    xs = st / 4
    ax.add_patch(Rectangle((xs - 0.14, -50.0), 0.28, 0.6, color='#D4FAFF', lw=0, zorder=3))
    ax.scatter([xs], [-50.8], s=55, color='#A6DAF4', lw=0, zorder=4)
    ax.text(xs, -50.8, '❄', color='#3FA0DC', fontsize=7, ha='center', va='center',
            family='DejaVu Sans', zorder=5)
    ax.text(xs, -48.0, f'{pc}%', color='#0000FF', fontsize=5.2, rotation=90,
            ha='center', va='center', weight='bold', zorder=5)

# ---- legend / footer ----
fig.text(fx(43), fy(606), '(°c)', fontsize=7.3, ha='right', va='center')
fig.text(fx(10), fy(622), 'Alt. 2050m', fontsize=7.3, ha='left', va='center')
fig.text(fx(714), fy(606), '(mm)', fontsize=7.3, ha='left', va='center')

fig.add_artist(Line2D([fx(35), fx(65)], [fy(637), fy(637)], color='#FF0000', lw=3.3,
                      transform=fig.transFigure))
fig.text(fx(75), fy(637), 'Moyenne des scénarios', fontsize=7.3, ha='left', va='center')
fig.add_artist(Line2D([fx(225), fx(255)], [fy(637), fy(637)], color='#0000FF', lw=3.3,
                      transform=fig.transFigure))
fig.text(fx(265), fy(637), 'Run de contrôle', fontsize=7.3, ha='left', va='center')
fig.add_artist(Line2D([fx(225), fx(255)], [fy(647), fy(647)], color='black', lw=3.3,
                      transform=fig.transFigure))
fig.text(fx(265), fy(646), 'Run GFS', fontsize=7.3, ha='left', va='center')
fig.text(fx(60), fy(658), '❄', color='#3FA0DC', fontsize=9, ha='center', va='center',
         family='DejaVu Sans')
fig.text(fx(75), fy(659), 'Risque neige', fontsize=7.3, ha='left', va='center')
fig.text(fx(340), fy(652), '30 Perts.', fontsize=7.3, ha='left', va='center')

for k in range(30):
    x0 = 400 + k * 11.17
    fig.add_artist(Rectangle((fx(x0), fy(656)), 10 / W, 7 / H, color=member_colors[k], lw=0,
                             transform=fig.transFigure))
    fig.text(fx(x0 + 5), fy(644), f'{k + 1:02d}', fontsize=5.2, ha='center', va='center',
             weight='bold')

fig.add_artist(Rectangle((fx(20), fy(699)), 420 / W, 32 / H, fill=False, ec='black', lw=0.9,
                         transform=fig.transFigure))
fig.text(fx(30), fy(677), 'Diagramme des ensembles GEFS sur 384h : 47N 12E', fontsize=8.4,
         weight='bold', ha='left', va='center')
fig.text(fx(30), fy(691), 'Températures 850hPa et 500hPa (°C) , précipitations (mm)',
         fontsize=7.3, ha='left', va='center')
fig.text(fx(450), fy(675), 'Ensemble GEFS du 25/08/2026 - 00Z', fontsize=7.3, ha='left', va='center')
fig.text(fx(450), fy(691), 'Copyright 2026 Meteociel.fr', fontsize=8.4, weight='bold',
         ha='left', va='center')

fig.savefig('out.png', dpi=100)
